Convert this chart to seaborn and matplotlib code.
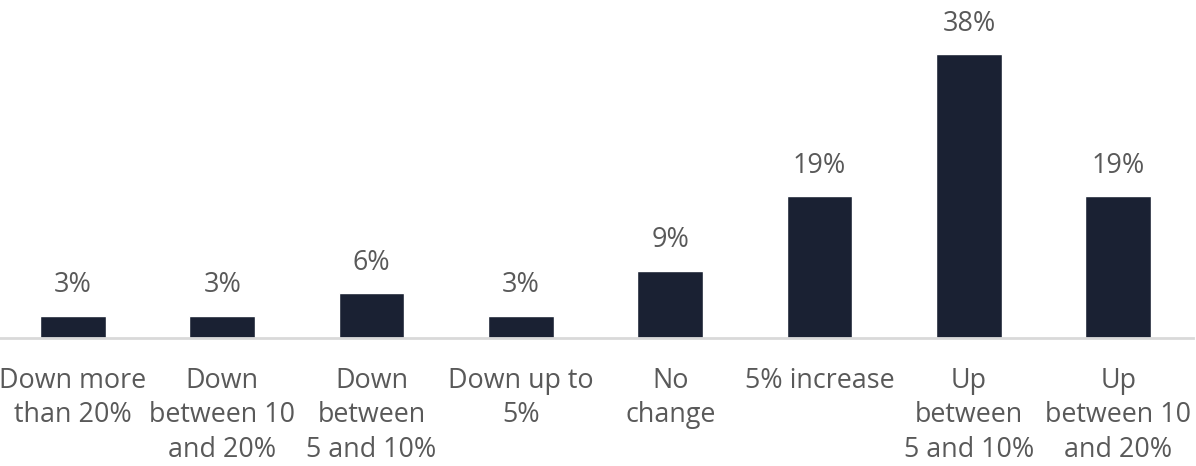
import matplotlib
matplotlib.use("Agg")
import matplotlib.pyplot as plt
import seaborn as sns
import pandas as pd

categories = [
    "Down more\nthan 20%",
    "Down\nbetween 10\nand 20%",
    "Down\nbetween\n5 and 10%",
    "Down up to\n5%",
    "No\nchange",
    "5% increase",
    "Up\nbetween\n5 and 10%",
    "Up\nbetween 10\nand 20%",
]
shares = [3, 3, 6, 3, 9, 19, 38, 19]
value_labels = ["3%", "3%", "6%", "3%", "9%", "19%", "38%", "19%"]

bar_color = "#1a2133"
text_color = "#595959"

sns.set_theme(style="white")
plt.rcParams["font.family"] = ["Open Sans", "DejaVu Sans"]

df = pd.DataFrame({"category": categories, "share": shares})

fig = plt.figure(figsize=(11.96, 4.66), dpi=100)
ax = fig.add_axes([-0.0015, 0.2747, 0.999, 0.7253])

sns.barplot(data=df, x="category", y="share", color=bar_color,
            width=0.44, saturation=1, ax=ax)

ax.set_ylim(0, 45.25)
ax.set_xlim(-0.5, len(categories) - 0.5)
ax.set_xlabel("")
ax.set_ylabel("")
ax.set_yticks([])

for spine in ["top", "right", "left"]:
    ax.spines[spine].set_visible(False)
ax.spines["bottom"].set_color("#d9d9d9")
ax.spines["bottom"].set_linewidth(2)

ax.tick_params(axis="x", length=0, pad=21, labelsize=19.4, labelcolor=text_color)
for lbl in ax.get_xticklabels():
    lbl.set_multialignment("center")
    lbl.set_linespacing(1.3)

for i, (v, t) in enumerate(zip(shares, value_labels)):
    ax.annotate(t, xy=(i, v), xytext=(0, 22), textcoords="offset points",
                ha="center", va="center", fontsize=19.4, color=text_color)

fig.savefig("out.png", dpi=100)
